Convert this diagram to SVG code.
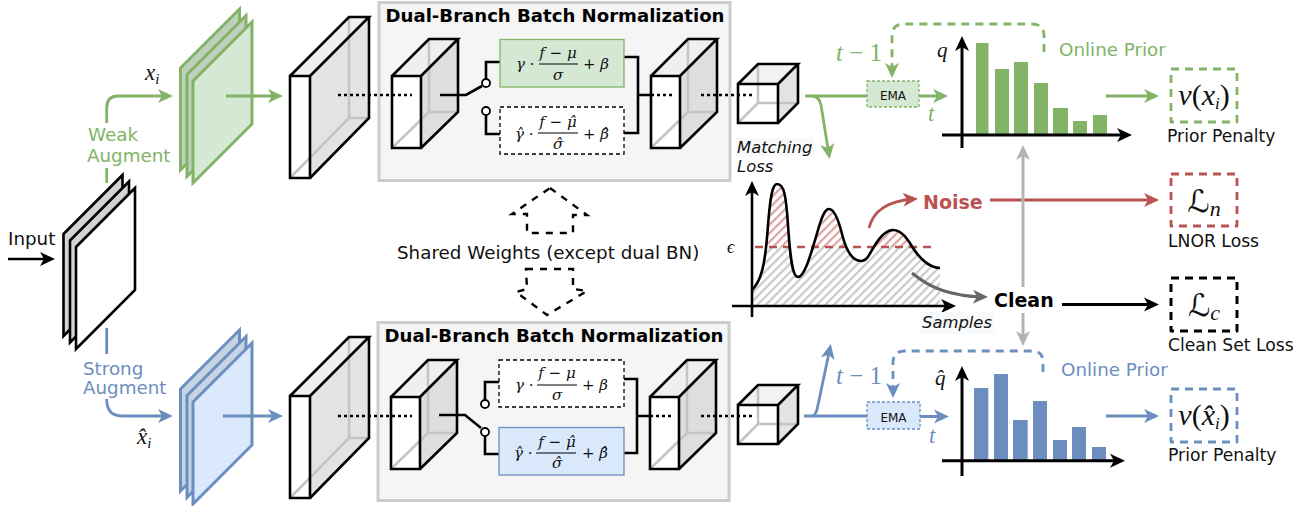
<svg xmlns="http://www.w3.org/2000/svg" width="1310" height="506" viewBox="0 0 1310 506">
<style>
text{font-family:"DejaVu Sans",sans-serif;fill:#111}
.m{font-family:"Liberation Serif","DejaVu Serif",serif;font-style:italic}
.mr{font-family:"Liberation Serif","DejaVu Serif",serif;font-style:normal}
.f{font-family:"DejaVu Serif",serif;font-style:italic;font-size:15px}
.fr{font-style:normal}
.t{font-size:18.100px;font-weight:bold;fill:#000}
.s{font-size:17.200px}
.l{font-size:18.300px}
.it{font-size:16.400px;font-style:italic}
.gt{fill:#82b366}.bt{fill:#6c8ebf}
.ln{fill:none;stroke-linecap:butt;stroke-linejoin:round}
.g{stroke:#82b366;stroke-width:2.800px}
.b{stroke:#6c8ebf;stroke-width:2.800px}
.r{stroke:#b85450;stroke-width:2.800px}
.k{stroke:#000;stroke-width:2.600px}
.y{stroke:#b3b3b3;stroke-width:3px}
.d{stroke:#666;stroke-width:3px}
.dash{stroke-dasharray:8 6}
.dot{fill:none;stroke:#000;stroke-width:2.600px;stroke-dasharray:3 3}
.o{stroke:#000;stroke-width:2.600px;stroke-linejoin:miter}
.i{fill:none;stroke:#c4c4c4;stroke-width:2.500px}
.bn{fill:#f5f5f5;stroke:#ccc;stroke-width:3px}
.wire{fill:none;stroke:#000;stroke-width:2.600px;stroke-linejoin:miter}
.sw{fill:#fff;stroke:#000;stroke-width:1.800px}
.fb{stroke-width:1.300px}
.fd{fill:#fff;stroke:#000;stroke-width:1.300px;stroke-dasharray:4 3}
.fl{stroke:#000;stroke-width:1.100px}
.sh{fill:none;stroke:#000;stroke-width:2.400px;stroke-dasharray:7 7;stroke-linejoin:miter}
</style>
<defs>
<marker id="ag" markerUnits="userSpaceOnUse" markerWidth="18" markerHeight="16" refX="11" refY="8" orient="auto"><path d="M0,1 L15,8 L0,15 L4,8z" fill="#82b366"/></marker>
<marker id="ab" markerUnits="userSpaceOnUse" markerWidth="18" markerHeight="16" refX="11" refY="8" orient="auto"><path d="M0,1 L15,8 L0,15 L4,8z" fill="#6c8ebf"/></marker>
<marker id="ar" markerUnits="userSpaceOnUse" markerWidth="18" markerHeight="16" refX="11" refY="8" orient="auto"><path d="M0,1 L15,8 L0,15 L4,8z" fill="#b85450"/></marker>
<marker id="ak" markerUnits="userSpaceOnUse" markerWidth="18" markerHeight="16" refX="11" refY="8" orient="auto"><path d="M0,1 L15,8 L0,15 L4,8z" fill="#000"/></marker>
<marker id="ay" markerUnits="userSpaceOnUse" markerWidth="18" markerHeight="16" refX="11" refY="8" orient="auto"><path d="M0,1 L15,8 L0,15 L4,8z" fill="#b3b3b3"/></marker>
<marker id="ad" markerUnits="userSpaceOnUse" markerWidth="18" markerHeight="16" refX="11" refY="8" orient="auto"><path d="M0,1 L15,8 L0,15 L4,8z" fill="#666"/></marker>
<pattern id="hg" width="6" height="6" patternUnits="userSpaceOnUse" patternTransform="rotate(45)"><rect width="6" height="6" fill="#fff"/><rect width="2.200" height="6" fill="#c9c9c9"/></pattern>
<pattern id="hr" width="6" height="6" patternUnits="userSpaceOnUse" patternTransform="rotate(45)"><rect width="6" height="6" fill="#fff"/><rect width="2.200" height="6" fill="#dba3a0"/></pattern>
<clipPath id="cc"><path d="M752,306 L752,290 C760,282 765,270 768,225 C770,200 772,184 777,184 C784,184 786,195 788,225 C790,255 792,277 798,277 C805,277 812,250 818,230 C822,216 825,209 829,209 C834,209 838,218 842,234 C846,250 852,261 861,261 C868,261 870,252 875,245 C880,237 886,230 893,230 C902,230 908,240 913,248 C920,259 930,268 940,268 L940,306z"/></clipPath>
<g id="slabA">
<path d="M290,76 L349,17 L369,17 L310,76z" fill="#efefef"/>
<path d="M310,76 L369,17 L369,118 L310,178z" fill="#e3e3e3"/>
<rect x="290" y="76" width="20" height="102" fill="#fff"/>
<path class="i" d="M349,17 V118 H369 M349,118 L290,178"/>
<path class="o" fill="none" d="M290,76 H310 V178 H290z M290,76 L349,17 H369 L310,76 M369,17 V118 L310,178"/>
</g>
<g id="slabB">
<path d="M392,76 L429,39 L458,39 L421,76z" fill="#efefef"/>
<path d="M421,76 L458,39 L458,112 L421,148z" fill="#dedede"/>
<rect x="392" y="76" width="29" height="72" fill="#fff"/>
<path class="i" d="M429,39 V112 H458 M429,112 L392,148"/>
<path class="o" fill="none" d="M392,76 H421 V148 H392z M392,76 L429,39 H458 L421,76 M458,39 V112 L421,148"/>
</g>
<g id="cube">
<path d="M738,84 L758,64 L798,64 L778,84z" fill="#f2f2f2"/>
<path d="M778,84 L798,64 L798,103 L778,123z" fill="#e3e3e3"/>
<rect x="738" y="84" width="40" height="39" fill="#fff"/>
<path class="i" d="M758,64 V103 H798 M758,103 L738,123"/>
<path class="o" fill="none" d="M738,84 H778 V123 H738z M738,84 L758,64 H798 L778,84 M798,64 V103 L778,123"/>
</g>
<g id="page"><path d="M0,59 L59,0 V102 L0,161z"/></g>
</defs>

<g id="bn-top-panel"><rect class="bn" x="379" y="2.500" width="351" height="178"/><text class="t" x="555" y="22" text-anchor="middle">Dual-Branch Batch Normalization</text></g>
<g id="bn-bottom-panel"><rect class="bn" x="378" y="322.500" width="351" height="178"/><text class="t" x="554" y="342" text-anchor="middle">Dual-Branch Batch Normalization</text></g>

<g id="input">
<use href="#page" x="63.500" y="175" fill="#d4d4d4" stroke="#000" stroke-width="2.600"/>
<use href="#page" x="70" y="181.500" fill="#d4d4d4" stroke="#000" stroke-width="2.600"/>
<use href="#page" x="76" y="188" fill="#fff" stroke="#000" stroke-width="2.600"/>
<text class="l" x="8" y="245">Input</text>
</g>
<g id="weak-images">
<use href="#page" x="180.500" y="9" fill="#bfd0bf" stroke="#82b366" stroke-width="3"/>
<use href="#page" x="187" y="15.500" fill="#bfd0bf" stroke="#82b366" stroke-width="3"/>
<use href="#page" x="193" y="22" fill="#d5e8d4" stroke="#82b366" stroke-width="3"/>
</g>
<g id="strong-images">
<use href="#page" x="180.500" y="330" fill="#c5d3e5" stroke="#6c8ebf" stroke-width="3"/>
<use href="#page" x="187" y="336.500" fill="#c5d3e5" stroke="#6c8ebf" stroke-width="3"/>
<use href="#page" x="193" y="343" fill="#dae8fc" stroke="#6c8ebf" stroke-width="3"/>
</g>

<g id="labels-left">
<text class="l gt" x="88" y="141">Weak</text>
<text class="l gt" x="87" y="162">Augment</text>
<text class="l bt" x="83" y="375">Strong</text>
<text class="l bt" x="83" y="394">Augment</text>
<text class="m" x="145" y="80" font-size="23">x<tspan font-size="15" dy="4">i</tspan></text>
<text class="m" x="137" y="444" font-size="23">x̂<tspan font-size="15" dy="4">i</tspan></text>
</g>

<g id="encoder-top"><use href="#slabA"/></g>
<g id="encoder-bottom"><use href="#slabA" y="320"/></g>

<g id="bn-top">
<use href="#slabB"/>
<use href="#slabB" x="259"/>
<path class="wire" d="M440,95 H466 L482,86 M486,79 V62 H500 M486,115 V134 H500 M624,57 H638 V133 H624 M638,95 H651"/>
<circle class="sw" cx="486" cy="83" r="4"/><circle class="sw" cx="486" cy="111" r="4"/>
<rect x="500" y="39.500" width="124" height="47.500" fill="#d5e8d4" stroke="#82b366" class="fb"/>
<rect class="fd" x="500" y="107" width="124" height="47"/>
<text class="f" x="516" y="69">γ<tspan class="fr"> ·</tspan></text>
<text class="f" x="558" y="58" text-anchor="middle">f <tspan class="fr">−</tspan> μ</text><line class="fl" x1="539" x2="578" y1="64" y2="64"/><text class="f" x="558" y="80" text-anchor="middle">σ</text>
<text class="f" x="583" y="69"><tspan class="fr">+ </tspan>β</text>
<text class="f" x="515" y="139">γ̂<tspan class="fr"> ·</tspan></text>
<text class="f" x="558" y="127" text-anchor="middle">f <tspan class="fr">−</tspan> μ̂</text><line class="fl" x1="538" x2="578" y1="133" y2="133"/><text class="f" x="558" y="149" text-anchor="middle">σ̂</text>
<text class="f" x="583" y="139"><tspan class="fr">+ </tspan>β̂</text>
</g>
<g id="bn-bottom">
<use href="#slabB" x="-1" y="321"/>
<use href="#slabB" x="258" y="321"/>
<path class="wire" d="M439,415 H465 L481,428 M485,400 V382 H499 M485,436 V454 H499 M624,379 H637 V453 H624 M637,416 H650"/>
<circle class="sw" cx="485" cy="404" r="4"/><circle class="sw" cx="485" cy="432" r="4"/>
<rect class="fd" x="499" y="360" width="125" height="47"/>
<rect x="499" y="427.500" width="125" height="47.500" fill="#dae8fc" stroke="#6c8ebf" class="fb"/>
<text class="f" x="515" y="390">γ<tspan class="fr"> ·</tspan></text>
<text class="f" x="557" y="378" text-anchor="middle">f <tspan class="fr">−</tspan> μ</text><line class="fl" x1="537" x2="577" y1="385" y2="385"/><text class="f" x="557" y="400" text-anchor="middle">σ</text>
<text class="f" x="582" y="390"><tspan class="fr">+ </tspan>β</text>
<text class="f" x="514" y="458">γ̂<tspan class="fr"> ·</tspan></text>
<text class="f" x="557" y="447" text-anchor="middle">f <tspan class="fr">−</tspan> μ̂</text><line class="fl" x1="536" x2="576" y1="453" y2="453"/><text class="f" x="557" y="468" text-anchor="middle">σ̂</text>
<text class="f" x="582" y="458"><tspan class="fr">+ </tspan>β̂</text>
</g>
<g id="cube-top"><use href="#cube"/></g>
<g id="cube-bottom"><use href="#cube" y="321"/></g>

<g id="shared-label"><text class="l" x="397" y="259">Shared Weights (except dual BN)</text></g>

<g id="loss-chart">
<g clip-path="url(#cc)"><rect x="750" y="247" width="192" height="60" fill="url(#hg)"/><rect x="750" y="180" width="192" height="67" fill="url(#hr)"/></g>
<path fill="none" stroke="#b85450" stroke-width="2.500" stroke-dasharray="8 6" d="M755,247 H936"/>
<path fill="none" stroke="#000" stroke-width="2.600" d="M752,290 C760,282 765,270 768,225 C770,200 772,184 777,184 C784,184 786,195 788,225 C790,255 792,277 798,277 C805,277 812,250 818,230 C822,216 825,209 829,209 C834,209 838,218 842,234 C846,250 852,261 861,261 C868,261 870,252 875,245 C880,237 886,230 893,230 C902,230 908,240 913,248 C920,259 930,268 940,268"/>
<path class="ln k" d="M752,317 V185" marker-end="url(#ak)"/>
<path class="ln k" d="M732,306 H952" marker-end="url(#ak)"/>
<rect x="736" y="138" width="78" height="18" fill="#f8f9fa"/>
<rect x="921" y="312" width="74" height="22" fill="#f8f9fa"/>
<text class="it" x="737" y="153">Matching</text>
<text class="it" x="737" y="172">Loss</text>
<text class="it" x="922" y="328">Samples</text>
<text class="m" x="727" y="253" font-size="18">ϵ</text>
<text x="923" y="209" font-size="19" font-weight="bold" style="fill:#b85450">Noise</text>
<text x="994" y="307" font-size="19" font-weight="bold" style="fill:#000">Clean</text>
</g>

<g id="prior-top">
<rect x="867" y="81" width="52" height="26" fill="#d5e8d4" stroke="#82b366" stroke-width="1.300" stroke-dasharray="3 2"/>
<text x="893" y="100" font-size="12" text-anchor="middle">EMA</text>
<text class="l gt" x="1059" y="56">Online Prior</text>
<text class="m gt" x="836" y="61" font-size="25">t <tspan class="mr">−</tspan> <tspan class="mr">1</tspan></text>
<text class="m gt" x="928" y="121" font-size="23">t</text>
<text class="m" x="937" y="57" font-size="21">q</text>
<path fill="#82b366" d="M976,43h12.500v92h-12.500z M995,69h14v66h-14z M1014,62h14v73h-14z M1034,83h14v52h-14z M1053,108h15v27h-15z M1073,121h14v14h-14z M1093,115h14v20h-14z"/>
<path class="ln k" style="stroke-width:3" d="M962,148 V40" marker-end="url(#ak)"/>
<path class="ln k" style="stroke-width:3" d="M942,135 H1128" marker-end="url(#ak)"/>
</g>
<g id="prior-bottom">
<rect x="867" y="402" width="53" height="27" fill="#dae8fc" stroke="#6c8ebf" stroke-width="1.300" stroke-dasharray="3 2"/>
<text x="893.500" y="422" font-size="12" text-anchor="middle">EMA</text>
<text class="l bt" x="1061" y="376">Online Prior</text>
<text class="m bt" x="836" y="384" font-size="25">t <tspan class="mr">−</tspan> <tspan class="mr">1</tspan></text>
<text class="m bt" x="929" y="443" font-size="23">t</text>
<text class="m" x="935" y="385" font-size="21">q̂</text>
<path fill="#6c8ebf" d="M974,388h14.300v73h-14.300z M994,374h14v87h-14z M1013,420h14.700v41h-14.700z M1033,401h14v60h-14z M1053,440h14v21h-14z M1072,427h14v34h-14z M1092,447h14v14h-14z"/>
<path class="ln k" style="stroke-width:3" d="M962,476 V370" marker-end="url(#ak)"/>
<path class="ln k" style="stroke-width:3" d="M942,460.700 H1121" marker-end="url(#ak)"/>
</g>

<g id="penalty-top">
<rect class="ln g dash" x="1171" y="69" width="66" height="53"/>
<text class="m" x="1204" y="105" font-size="30" text-anchor="middle">v<tspan class="mr">(</tspan>x<tspan font-size="17" dy="4">i</tspan><tspan class="mr" dy="-4">)</tspan></text>
<text class="s" x="1167" y="142">Prior Penalty</text>
</g>
<g id="penalty-bottom">
<rect class="ln b dash" x="1171" y="389" width="66" height="53"/>
<text class="m" x="1204" y="425" font-size="30" text-anchor="middle">v<tspan class="mr">(</tspan>x̂<tspan font-size="17" dy="4">i</tspan><tspan class="mr" dy="-4">)</tspan></text>
<text class="s" x="1168" y="461">Prior Penalty</text>
</g>
<g id="loss-n">
<rect class="ln r dash" x="1171" y="174" width="66" height="52"/>
<text x="1204" y="212" font-size="31" text-anchor="middle" style="font-family:'DejaVu Sans',sans-serif">ℒ<tspan class="m" font-size="22" dy="4">n</tspan></text>
<text class="s" x="1168" y="247">LNOR Loss</text>
</g>
<g id="loss-c">
<rect class="ln k dash" style="stroke-width:3" x="1171" y="278" width="66" height="53"/>
<text x="1204" y="316" font-size="31" text-anchor="middle" style="font-family:'DejaVu Sans',sans-serif">ℒ<tspan class="m" font-size="22" dy="4">c</tspan></text>
<text class="s" x="1168" y="351">Clean Set Loss</text>
</g>

<g id="connectors">
<path class="ln k" d="M8,259 H51" marker-end="url(#ak)"/>
<path class="ln g" d="M106.700,183 V168 M106.700,123 V108 Q106.700,96 118,96 H169" marker-end="url(#ag)"/>
<path class="ln b" d="M106.700,328 V354 M106.700,399 Q106.700,416 122,416 H169" marker-end="url(#ab)"/>
<path class="ln g" d="M226,96 H279" marker-end="url(#ag)"/>
<path class="ln b" d="M223,416 H279" marker-end="url(#ab)"/>
<path class="ln g" d="M805,96 H867 M919,96 H944" marker-end="url(#ag)"/>
<path class="ln g" d="M812,96 Q819,96 821,105 L829,155" marker-end="url(#ag)"/>
<path class="ln b" d="M804,416 H867 M920,416.500 H945" marker-end="url(#ab)"/>
<path class="ln b" d="M812,416 Q816,416 818,405 L830,348" marker-end="url(#ab)"/>
<path class="ln g dash" d="M1044,52 V36 Q1044,24 1032,24 H904 Q892,24 892,36 V74" marker-end="url(#ag)"/>
<path class="ln b dash" d="M1043,372 V362 Q1043,351 1032,351 H905 Q893,351 893,363 V394" marker-end="url(#ab)"/>
<path class="ln g" d="M1106,96 H1155" marker-end="url(#ag)"/>
<path class="ln b" d="M1106,416 H1155" marker-end="url(#ab)"/>
<path class="ln r" d="M990,200 H1155" marker-end="url(#ar)"/>
<path class="ln k" style="stroke-width:3" d="M1062,304.500 H1155" marker-end="url(#ak)"/>
<path class="ln y" d="M1023,287 V149" marker-end="url(#ay)"/>
<path class="ln y" d="M1023,313 V342" marker-end="url(#ay)"/>
<path class="ln r" d="M869,228 C873,212 885,201 914,199" marker-end="url(#ar)"/>
<path class="ln d" d="M912,273 C930,288 950,296 984,297" marker-end="url(#ad)"/>
<path class="dot" d="M338,95 H412 M651,95 H672 M701,95 H752"/>
<path class="dot" d="M338,416 H412 M650,416 H671 M701,416 H752"/>
<path class="sh" d="M550,188 L587,215 H573 V233 H527 V214 H512z"/>
<path class="sh" d="M526,269 H573 V289 L587,291 L547,315 L516,292 L527,289z"/>
</g>
</svg>
